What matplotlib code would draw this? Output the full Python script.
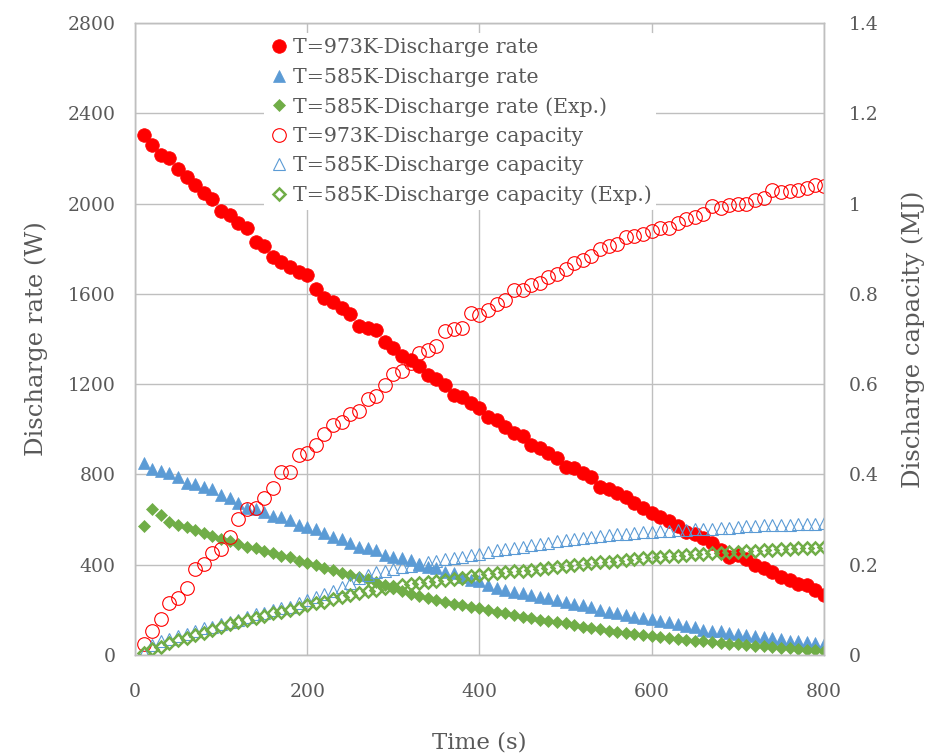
import numpy as np
import matplotlib
matplotlib.use("Agg")
import matplotlib.pyplot as plt

# Time axis (s)
time_s = list(range(10, 801, 10))

# Discharge rate (W)
rate_973K = [
    2304, 2260, 2215, 2200, 2152, 2116, 2082, 2045, 2019, 1967,
    1949, 1915, 1893, 1831, 1812, 1765, 1743, 1720, 1698, 1684,
    1620, 1580, 1565, 1536, 1509, 1458, 1450, 1440, 1388, 1359,
    1325, 1307, 1280, 1240, 1221, 1196, 1152, 1144, 1118, 1093,
    1056, 1041, 1011, 985, 970, 930, 916, 896, 871, 834,
    827, 805, 787, 746, 734, 716, 699, 672, 650, 630,
    610, 594, 572, 546, 536, 517, 495, 465, 436, 443,
    424, 399, 384, 369, 347, 332, 315, 310, 288, 266,
]
rate_585K = [
    852, 823, 817, 805, 790, 763, 756, 746, 734, 709,
    694, 675, 650, 645, 635, 616, 610, 598, 576, 566,
    557, 539, 524, 513, 495, 480, 473, 465, 443, 435,
    428, 421, 399, 391, 384, 369, 362, 347, 332, 329,
    310, 295, 288, 280, 273, 266, 258, 251, 244, 236,
    228, 220, 214, 200, 190, 184, 178, 168, 162, 158,
    150, 144, 136, 128, 122, 112, 108, 104, 98, 94,
    90, 85, 80, 75, 70, 64, 60, 56, 52, 48,
]
rate_585K_exp = [
    571, 645, 620, 591, 576, 566, 554, 539, 527, 513,
    505, 492, 480, 473, 462, 451, 440, 433, 418, 406,
    399, 384, 377, 365, 354, 347, 335, 322, 310, 298,
    285, 272, 262, 252, 244, 236, 228, 220, 213, 206,
    198, 191, 184, 176, 170, 163, 157, 150, 144, 140,
    133, 126, 120, 114, 108, 103, 98, 93, 88, 84,
    80, 76, 72, 68, 64, 60, 57, 54, 50, 47,
    44, 41, 38, 35, 32, 29, 26, 23, 20, 17,
]

# Discharge capacity (MJ)
cap_973K = [
    0.024, 0.052, 0.079, 0.115, 0.126, 0.148, 0.190, 0.202, 0.225, 0.234,
    0.262, 0.302, 0.323, 0.326, 0.347, 0.369, 0.405, 0.406, 0.443, 0.447,
    0.465, 0.490, 0.510, 0.517, 0.534, 0.541, 0.566, 0.574, 0.598, 0.622,
    0.629, 0.646, 0.670, 0.676, 0.685, 0.718, 0.722, 0.725, 0.757, 0.753,
    0.764, 0.778, 0.786, 0.809, 0.809, 0.820, 0.825, 0.838, 0.845, 0.856,
    0.868, 0.876, 0.883, 0.900, 0.905, 0.910, 0.925, 0.928, 0.933, 0.940,
    0.946, 0.945, 0.958, 0.965, 0.970, 0.978, 0.995, 0.990, 0.996, 1.000,
    1.000, 1.007, 1.012, 1.030, 1.026, 1.027, 1.030, 1.034, 1.041, 1.040,
]
cap_585K = [
    0.005, 0.022, 0.030, 0.035, 0.041, 0.047, 0.052, 0.059, 0.063, 0.068,
    0.074, 0.078, 0.083, 0.090, 0.092, 0.100, 0.105, 0.107, 0.115, 0.122,
    0.128, 0.135, 0.142, 0.150, 0.160, 0.170, 0.178, 0.183, 0.187, 0.191,
    0.194, 0.198, 0.202, 0.205, 0.209, 0.212, 0.215, 0.218, 0.221, 0.224,
    0.229, 0.232, 0.235, 0.238, 0.240, 0.243, 0.246, 0.249, 0.252, 0.255,
    0.257, 0.259, 0.261, 0.263, 0.265, 0.267, 0.268, 0.270, 0.272, 0.273,
    0.274, 0.275, 0.276, 0.277, 0.278, 0.279, 0.280, 0.281, 0.282, 0.284,
    0.285, 0.286, 0.287, 0.287, 0.288, 0.289, 0.290, 0.290, 0.291, 0.292,
]
cap_585K_exp = [
    0.004, 0.013, 0.018, 0.026, 0.033, 0.037, 0.044, 0.049, 0.055, 0.063,
    0.068, 0.074, 0.078, 0.081, 0.086, 0.092, 0.096, 0.100, 0.105, 0.111,
    0.115, 0.118, 0.123, 0.129, 0.133, 0.138, 0.141, 0.145, 0.148, 0.151,
    0.154, 0.157, 0.159, 0.162, 0.164, 0.167, 0.169, 0.171, 0.174, 0.177,
    0.179, 0.181, 0.183, 0.185, 0.187, 0.189, 0.191, 0.193, 0.195, 0.197,
    0.199, 0.201, 0.203, 0.205, 0.207, 0.208, 0.210, 0.212, 0.214, 0.216,
    0.217, 0.219, 0.220, 0.221, 0.223, 0.224, 0.225, 0.226, 0.228, 0.229,
    0.230, 0.231, 0.232, 0.233, 0.234, 0.235, 0.236, 0.237, 0.238, 0.239,
]

x_ticks = [0, 200, 400, 600, 800]
left_ticks = [0, 400, 800, 1200, 1600, 2000, 2400, 2800]
right_ticks = [0, 0.2, 0.4, 0.6, 0.8, 1.0, 1.2, 1.4]
right_tick_labels = ["0", "0.2", "0.4", "0.6", "0.8", "1", "1.2", "1.4"]

RED = "#FF0000"
BLUE = "#5B9BD5"
GREEN = "#70AD47"
GRID = "#BFBFBF"
TEXT = "#595959"

plt.rcParams["font.family"] = ["DejaVu Serif"]

fig = plt.figure(figsize=(9.32, 7.55), dpi=100)
ax = fig.add_axes([0.1448, 0.1325, 0.7393, 0.8370])
ax2 = ax.twinx()

h1, = ax.plot(time_s, rate_973K, ls="none", marker="o", ms=9.8, mfc=RED, mec=RED,
              mew=0.5, label="T=973K-Discharge rate")
h2, = ax.plot(time_s, rate_585K, ls="none", marker="^", ms=8.5, mfc=BLUE, mec=BLUE,
              mew=0.5, label="T=585K-Discharge rate")
h3, = ax.plot(time_s, rate_585K_exp, ls="none", marker="D", ms=6.2, mfc=GREEN, mec=GREEN,
              mew=0.5, label="T=585K-Discharge rate (Exp.)")

h4, = ax2.plot(time_s, cap_973K, ls="none", marker="o", ms=9.8, mfc="none", mec=RED,
               mew=0.8, label="T=973K-Discharge capacity")
h5, = ax2.plot(time_s, cap_585K, ls="none", marker="^", ms=8.5, mfc="none", mec=BLUE,
               mew=0.8, label="T=585K-Discharge capacity")
h6, = ax2.plot(time_s, cap_585K_exp, ls="none", marker="D", ms=5.8, mfc="none", mec=GREEN,
               mew=1.8, label="T=585K-Discharge capacity (Exp.)")

ax.set_xlim(0, 800)
ax.set_ylim(0, 2800)
ax2.set_ylim(0, 1.4)
ax.set_xticks(x_ticks)
ax.set_yticks(left_ticks)
ax2.set_yticks(right_ticks)
ax2.set_yticklabels(right_tick_labels)

ax.grid(True, color=GRID, lw=1.0)
ax.set_axisbelow(True)
for a in (ax, ax2):
    for s in a.spines.values():
        s.set_color(GRID)
        s.set_linewidth(1.0)
    a.tick_params(length=0, labelsize=13.5, labelcolor=TEXT)
ax.tick_params(axis="x", pad=20)
ax.tick_params(axis="y", pad=14)
ax2.tick_params(axis="y", pad=18)

ax.set_xlabel("Time (s)", fontsize=16.5, color=TEXT, labelpad=22)
ax.set_ylabel("Discharge rate (W)", fontsize=17.5, color=TEXT, labelpad=14)
ax2.set_ylabel("Discharge capacity (MJ)", fontsize=17.5, color=TEXT, labelpad=16)

leg = ax2.legend(handles=[h1, h2, h3, h4, h5, h6], loc="upper left",
                 bbox_to_anchor=(0.172, 1.0), frameon=True, fontsize=14.8,
                 labelspacing=0.50, handletextpad=0.15, handlelength=1.0,
                 borderpad=0.25, markerscale=1.0)
leg.get_frame().set_facecolor("white")
leg.get_frame().set_edgecolor("none")
leg.get_frame().set_alpha(1.0)
for t in leg.get_texts():
    t.set_color(TEXT)

fig.savefig("out.png", dpi=100)
